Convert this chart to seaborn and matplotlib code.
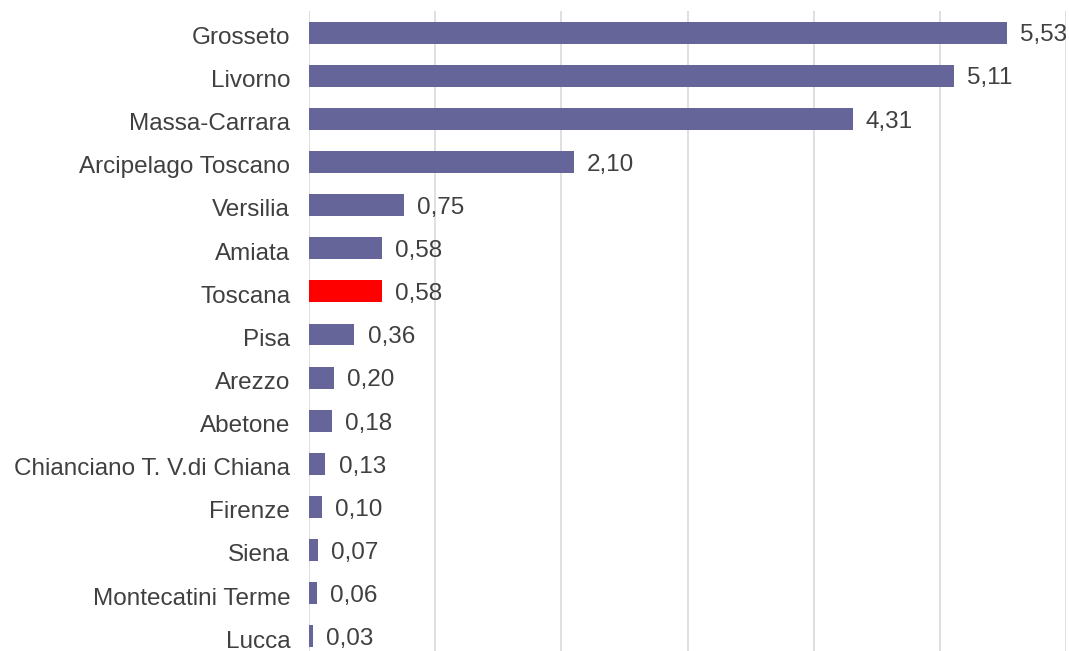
import matplotlib
matplotlib.use("Agg")
import matplotlib.pyplot as plt
import matplotlib.transforms as mtransforms
import seaborn as sns
import pandas as pd

areas = ["Grosseto", "Livorno", "Massa-Carrara", "Arcipelago Toscano", "Versilia",
         "Amiata", "Toscana", "Pisa", "Arezzo", "Abetone",
         "Chianciano T. V.di Chiana", "Firenze", "Siena", "Montecatini Terme", "Lucca"]
values = [5.53, 5.11, 4.31, 2.10, 0.75, 0.58, 0.58, 0.36, 0.20, 0.18, 0.13, 0.10, 0.07, 0.06, 0.03]
highlight = "Toscana"

base_color = "#65659A"
accent_color = "#FF0000"
text_color = "#404040"

sns.set_theme(style="white")
plt.rcParams["font.family"] = ["Liberation Sans", "DejaVu Sans"]

df = pd.DataFrame({"area": areas, "value": values})
palette = {a: (accent_color if a == highlight else base_color) for a in areas}

fig = plt.figure(figsize=(10.69, 6.51), dpi=100)
ax = fig.add_axes([309 / 1069, -7 / 651, (1066 - 309) / 1069, 647 / 651])

sns.barplot(data=df, y="area", x="value", hue="area", palette=palette,
            order=areas, width=0.51, legend=False, ax=ax, saturation=1,
            linewidth=0, edgecolor="none")

ax.set_xlim(0, 6)
ax.set_xticks(range(0, 7))
ax.xaxis.grid(True, color="#D9D9D9", linewidth=1.2)
ax.set_axisbelow(True)
ax.tick_params(axis="x", bottom=False, labelbottom=False)
ax.tick_params(axis="y", left=False, length=0, pad=13.5, labelsize=17.5, labelcolor=text_color)
ax.set_xlabel("")
ax.set_ylabel("")
for s in ax.spines.values():
    s.set_visible(False)

# nudge category labels slightly downward
shift = mtransforms.ScaledTranslation(0, -2 / 72, fig.dpi_scale_trans)
for lbl in ax.get_yticklabels():
    lbl.set_transform(lbl.get_transform() + shift)

for i, v in enumerate(values):
    ax.annotate(f"{v:.2f}".replace(".", ","), xy=(v, i), xytext=(9.5, -2),
                textcoords="offset points", va="center", ha="left",
                fontsize=17.5, color=text_color)

fig.savefig("out.png", dpi=100)
